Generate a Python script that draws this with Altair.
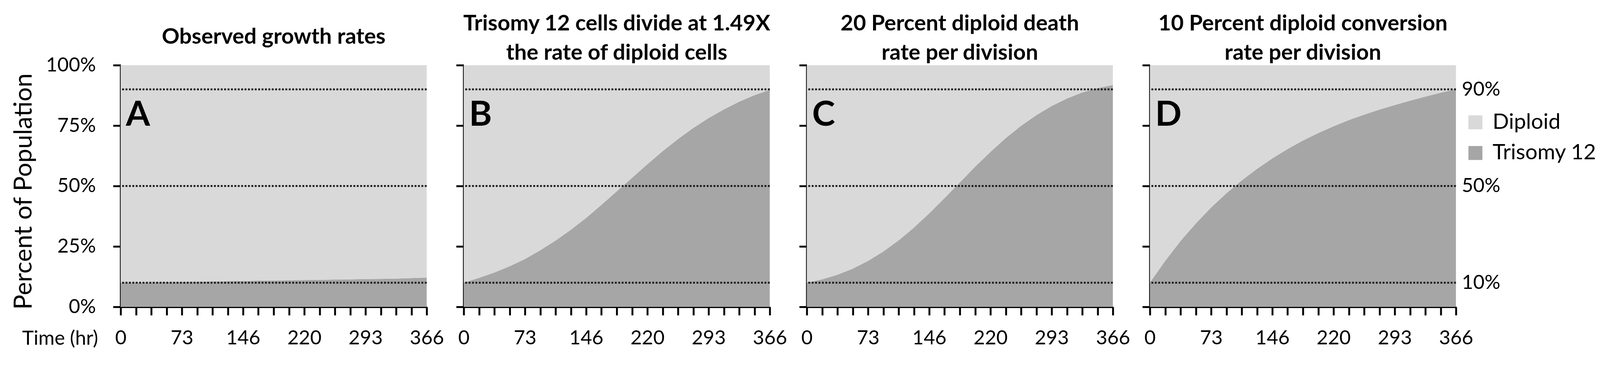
import altair as alt
import pandas as pd

# ---- data ----
TIME_HR = [0, 18.3, 36.6, 54.9, 73.2, 91.5, 109.8, 128.1, 146.4, 164.7, 183.0,
           201.3, 219.6, 237.9, 256.2, 274.5, 292.8, 311.1, 329.4, 347.7, 366.0]

PANEL_LETTERS = ["A", "B", "C", "D"]
PANEL_TITLES = [
    ["Observed growth rates"],
    ["Trisomy 12 cells divide at 1.49X", "the rate of diploid cells"],
    ["20 Percent diploid death", "rate per division"],
    ["10 Percent diploid conversion", "rate per division"],
]

# Percent of population that is Trisomy 12 (diploid = 100 - trisomy)
TRI_A = [10.0, 10.0, 10.1, 10.2, 10.3, 10.4, 10.5, 10.6, 10.7, 10.8, 10.9,
         11.0, 11.1, 11.2, 11.3, 11.4, 11.5, 11.6, 11.7, 11.9, 12.1]
TRI_B = [10.0, 12.0, 14.2, 16.8, 19.8, 23.4, 27.4, 31.9, 36.8, 42.2, 47.8,
         53.4, 59.0, 64.4, 69.4, 74.0, 78.1, 81.7, 84.9, 87.6, 89.8]
TRI_C = [10.0, 11.4, 13.3, 15.8, 19.0, 22.9, 27.5, 32.8, 38.7, 45.0, 51.5,
         58.0, 64.1, 69.8, 74.9, 79.3, 83.1, 86.2, 88.7, 90.5, 91.8]
TRI_D = [10.0, 19.0, 27.2, 34.5, 41.1, 47.0, 52.3, 57.1, 61.4, 65.3, 68.8,
         71.9, 74.7, 77.3, 79.5, 81.6, 83.5, 85.3, 87.0, 88.6, 90.0]
TRISOMY = [TRI_A, TRI_B, TRI_C, TRI_D]

SERIES = ["Diploid", "Trisomy 12"]
COLORS = ["#d9d9d9", "#a6a6a6"]
REF_LINES = [10, 50, 90]
Y_TICKS = [0, 25, 50, 75, 100]

FONT = "Lato"
W, H = 810, 640


def panel(i):
    rows = []
    for t, tri in zip(TIME_HR, TRISOMY[i]):
        rows.append({"time": t, "series": "Trisomy 12", "pct": tri, "ord": 0})
        rows.append({"time": t, "series": "Diploid", "pct": round(100 - tri, 2), "ord": 1})
    df = pd.DataFrame(rows)

    x_kw = dict(
        values=TIME_HR, tickSize=22, labelPadding=36,
        labelExpr="abs(datum.value/73.2 - round(datum.value/73.2)) < 0.01 ? format(datum.value, '.0f') : ''",
        labelFlush=False, labelOverlap=False,
    )
    if i == 0:
        x_axis = alt.Axis(title="Time (hr)", titleX=-60, titleY=100, titleAlign="right",
                          titleBaseline="alphabetic", titleAnchor="start", **x_kw)
        y_axis = alt.Axis(values=Y_TICKS, tickSize=20, labelPadding=46,
                          labelExpr="datum.value + '%'", title="Percent of Population",
                          titlePadding=24, titleFontSize=66, titleY=334)
    else:
        x_axis = alt.Axis(title=None, **x_kw)
        y_axis = alt.Axis(values=Y_TICKS, tickSize=20, labels=False, title=None)

    legend = None
    if i == 3:
        legend = alt.Legend(title=None, orient="none", legendX=833, legendY=123,
                            symbolType="square", symbolSize=1369, symbolStrokeWidth=0,
                            symbolOpacity=1, labelFont=FONT, labelFontSize=57, labelLimit=0,
                            labelColor="black", rowPadding=23, labelOffset=17)

    yscale = alt.Scale(domain=[0, 100], nice=False)
    area = alt.Chart(df).mark_area(interpolate="linear", opacity=1).encode(
        x=alt.X("time:Q", scale=alt.Scale(domain=[0, 366], nice=False, zero=False), axis=x_axis),
        y=alt.Y("pct:Q", stack="zero", scale=yscale, axis=y_axis),
        color=alt.Color("series:N", scale=alt.Scale(domain=SERIES, range=COLORS), legend=legend),
        order=alt.Order("ord:Q"),
    )

    ref_df = pd.DataFrame({"ref": REF_LINES})
    if i == 3:
        r_axis = alt.Axis(orient="right", values=REF_LINES, domain=False, ticks=False,
                          labelPadding=15, labelExpr="datum.value + '%'", title=None)
    else:
        r_axis = y_axis
    rules = alt.Chart(ref_df).mark_rule(strokeDash=[5, 4], strokeWidth=5, color="#1a1a1a").encode(
        y=alt.Y("ref:Q", scale=yscale, axis=r_axis)
    )

    letter = alt.Chart(pd.DataFrame({"letter": [PANEL_LETTERS[i]]})).mark_text(
        font=FONT, fontWeight="bold", fontSize=92, align="left", baseline="alphabetic", color="black"
    ).encode(x=alt.value(14), y=alt.value(160), text="letter:N")

    title = alt.TitleParams(
        text=PANEL_TITLES[i], font=FONT, fontSize=58, fontWeight="bold", color="black",
        anchor="middle", lineHeight=77, offset=19 if i == 0 else 0,
    )
    layered = alt.layer(area, rules, letter).properties(width=W, height=H, title=title)
    if i == 3:
        layered = layered.resolve_scale(y="independent")
    return layered


chart = alt.hconcat(*[panel(i) for i in range(4)], spacing=98, bounds="flush").resolve_scale(
    color="independent"
).properties(
    padding={"left": 21, "top": 11, "right": 0, "bottom": 5}, background="white"
).configure_view(stroke=None).configure_axis(
    domainColor="black", domainWidth=5, tickColor="black", tickWidth=5,
    labelFont=FONT, labelFontSize=52, labelColor="black", grid=False,
    titleFont=FONT, titleFontSize=52, titleFontWeight="normal", titleColor="black",
)

chart.save("out.html", embed_options={"renderer": "svg", "actions": False})
